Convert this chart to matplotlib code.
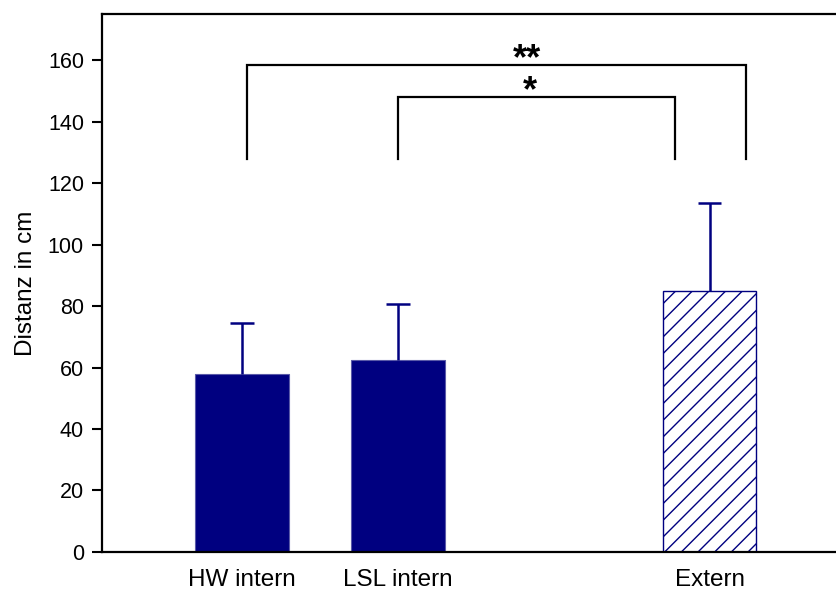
import numpy as np
import matplotlib
matplotlib.use('Agg')
import matplotlib.pyplot as plt

# Distanz je Gruppe, Mittelwert und oberer Fehlerbalken
groups = ['HW intern', 'LSL intern', 'Extern']
pos = [1, 2, 4]
means = [57.9, 62.4, 84.9]
errs = [16.6, 18.3, 28.6]

# Signifikanzklammern: (links, rechts, Höhe, Fußende, Text, Text-x)
brackets = [(1.03, 4.23, 158.4, 127.8, '**', 2.83),
            (2.0, 3.78, 148.0, 127.8, '*', 2.85)]

plt.rcParams['font.family'] = ['Liberation Sans', 'DejaVu Sans']
plt.rcParams['hatch.linewidth'] = 1.0
plt.rcParams['hatch.color'] = '#6a6ab8'

navy = '#000080'
fig = plt.figure(figsize=(8.36, 5.92), dpi=100)
ax = fig.add_axes([0.122, 0.0676, 0.878, 0.9088])

for i in range(3):
    if groups[i] == 'Extern':
        ax.bar(pos[i], means[i], width=0.60, facecolor='white', edgecolor=navy,
               hatch='//', linewidth=1.0)
    else:
        ax.bar(pos[i], means[i], width=0.60, color=navy, edgecolor='#5a5aa8', linewidth=0.8)

# Fehlerbalken nur nach oben
tops = np.array(means) + np.array(errs)
ax.vlines(pos, means, tops, color=navy, lw=1.8)
ax.hlines(tops, np.array(pos) - 0.075, np.array(pos) + 0.075, color=navy, lw=1.8)

for x1, x2, h, foot, txt, tx in brackets:
    ax.plot([x1, x1, x2, x2], [foot, h, h, foot], color='black', lw=1.6,
            solid_joinstyle='miter')
    ax.text(tx, h - 1.5, txt, ha='center', va='baseline', fontsize=26, fontweight='bold')

ax.set_xlim(0.103, 4.81)
ax.set_ylim(0, 175)
ax.set_yticks(np.arange(0, 161, 20))
ax.set_xticks(pos)
ax.set_xticklabels(groups)
ax.tick_params(axis='x', length=0, pad=12, labelsize=17.5)
ax.tick_params(axis='y', length=7, width=1.5, direction='out', labelsize=15.5, pad=6)
ax.set_ylabel('Distanz in cm', fontsize=17.5, labelpad=8)
ax.spines['right'].set_visible(False)
for s in ['left', 'top', 'bottom']:
    ax.spines[s].set_linewidth(1.6)

fig.savefig('out.png', dpi=100)
